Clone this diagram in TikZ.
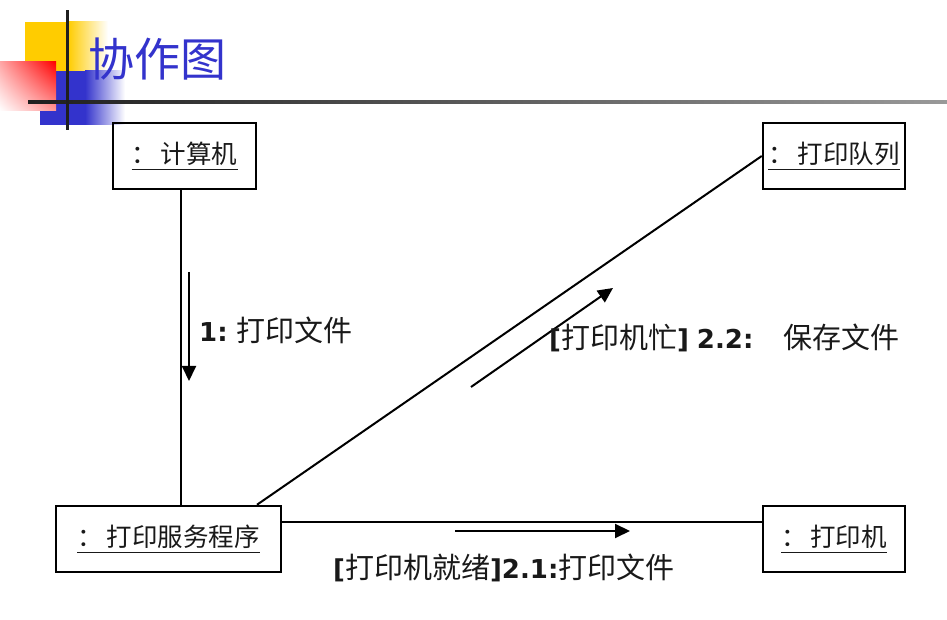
\documentclass[tikz,border=0pt]{standalone}
\usepackage{fontspec}
\newfontfamily\cjk{Noto Sans CJK SC}
\newfontfamily\latb{DejaVu Sans}
\usetikzlibrary{arrows.meta,calc,shadings}
\definecolor{ttl}{HTML}{3333CC}
\definecolor{yel}{HTML}{FFCC00}
\definecolor{blu}{HTML}{3333CC}
\newcommand\bd[1]{{\latb\bfseries\fontsize{26}{26}\selectfont #1}}
\newcommand\ulx[1]{\setbox0\hbox{#1}\rlap{\rule[-6.5pt]{\wd0}{1.3pt}}\box0}
\tikzset{
  obj/.style={draw, line width=2.5pt, minimum width=#1, minimum height=66pt, inner sep=0pt,
    font=\cjk\fontsize{25.5}{25.5}\selectfont, text=black!90},
  conn/.style={line width=2pt},
  msg/.style={line width=2pt, -{Triangle[length=15pt,width=14pt]}},
  lbl/.style={inner sep=0pt, font=\cjk\fontsize{29}{29}\selectfont, text=black!90}
}
\begin{document}
\begin{tikzpicture}[x=1pt,y=1pt]
\useasboundingbox (0,0) rectangle (947,620);
% decoration
\fill[yel] (25,549) rectangle (68,598);
\shade[left color=yel, right color=white] (68,549) rectangle (108,598);
\fill[blu] (40,495) rectangle (85,549);
\shade[left color=blu, right color=white] (85,495) rectangle (125,549);
\shade[upper right=red, upper left={red!35!white}, lower right={red!40!white}, lower left=white] (0,509) rectangle (56,558);
\shade[left color=black!88, right color=black!40] (28,516.5) rectangle (947,519.5);
\fill[black!88] (65.5,490) rectangle (68.5,610);
\node[anchor=west, inner sep=0pt, text=ttl, font=\cjk\fontsize{46}{46}\selectfont] (title) at (88,561) {协作图};
% objects
\node[obj=143pt] (comp) at (184.5,464) {\ulx{：\hspace{4pt}计算机}};
\node[obj=142pt] (queue) at (834,464) {\ulx{：\hspace{4pt}打印队列}};
\node[obj=225pt] (srv) at (168.5,81) {\ulx{：\hspace{4pt}打印服务程序}};
\node[obj=142pt] (prn) at (834,81) {\ulx{：\hspace{4pt}打印机}};
% links
\coordinate (vx) at (181,0);
\coordinate (hy) at (0,98);
\coordinate (dx) at (257,0);
\draw[conn] (comp.south -| vx) -- (srv.north -| vx);
\draw[conn] (srv.north -| dx) -- (queue.west);
\draw[conn] (srv.east |- hy) -- (prn.west |- hy);
% messages
\coordinate (a1s) at (189,348); \coordinate (a1e) at (189,239);
\coordinate (a2s) at (471,233); \coordinate (a2e) at (613,332);
\coordinate (a3s) at (455,89);  \coordinate (a3e) at (630,89);
\draw[msg] (a1s) -- (a1e);
\draw[msg] (a2s) -- (a2e);
\draw[msg] (a3s) -- (a3e);
\node[lbl, anchor=west] (l1) at (199,290) {\bd{1:}\hspace{9pt}打印文件};
\node[lbl, anchor=west] (l2) at (549,282) {\bd{[}打印机忙\bd{]}\hspace{8pt}\bd{2.2:}\hspace{30pt}保存文件};
\node[lbl, anchor=west] (l3) at (333,52) {\bd{[}打印机就绪\bd{]2.1:}打印文件};
\end{tikzpicture}
\end{document}
